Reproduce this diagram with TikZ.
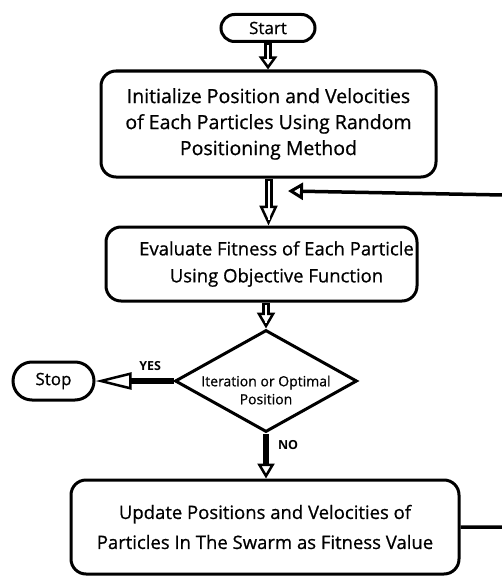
\documentclass[tikz,border=0pt]{standalone}
\usepackage{fontspec}
\setmainfont{Open Sans}
\newfontfamily\semi{Open Sans}[FakeBold=0.7]
\usetikzlibrary{arrows.meta,shapes.geometric,shapes.misc}
\begin{document}
\begin{tikzpicture}[x=1pt,y=-1pt,
  every node/.style={font=\semi\fontsize{18.5}{27}\selectfont, align=center},
  term/.style={draw, line width=3pt, rounded rectangle, inner sep=0pt, font=\semi\fontsize{17}{20}\selectfont},
  proc/.style={draw, line width=3pt, rounded corners=15pt, inner sep=0pt},
  decision/.style={draw, line width=3pt, diamond, inner sep=0pt, minimum width=182pt, minimum height=102pt},
  dbl/.style={line width=8pt, -{Triangle[open, fill=white, line width=2.5pt, length=#1, width=18pt]},
    postaction={draw, white, line width=2pt, -, shorten <=2pt, shorten >=6pt}},
  thk/.style={line width=6pt, -{Triangle[open, fill=white, line width=2.5pt, length=#1, width=17pt]}},
  fb/.style={line width=3.5pt, -{Triangle[open, fill=white, line width=3pt, length=15pt, width=17pt]}},
  lbl/.style={font=\bfseries\fontsize{12.5}{14}\selectfont, inner sep=0pt},
]
\useasboundingbox (0,0) rectangle (501,578);

\node[term, minimum width=94pt, minimum height=27pt] (start) at (268,28) {Start};
\node[proc, minimum width=335pt, minimum height=106pt, font=\semi\fontsize{19.5}{26}\selectfont] (init) at (268.5,124)
  {Initialize Position and Velocities\\of Each Particles Using Random\\Positioning Method};
\node[proc, minimum width=311pt, minimum height=74pt,
  label={[xshift=15pt, align=center]center:Evaluate Fitness of Each Particle\\Using Objective Function}]
  (eval) at (261.5,264) {};
\node[decision, label={[yshift=-9pt, align=center, font=\semi\fontsize{14}{18}\selectfont]center:Iteration or Optimal\\Position}]
  (dec) at (266,381) {};
\node[term, minimum width=81pt, minimum height=38pt] (stop) at (53.5,381) {Stop};
\node[proc, minimum width=388pt, minimum height=94pt, font=\semi\fontsize{18.5}{30}\selectfont] (upd) at (265,527)
  {Update Positions and Velocities of\\Particles In The Swarm as Fitness Value};
\coordinate (fbtip) at (288,191);

\draw[dbl=13pt] (start.south) -- (start.south |- init.north);
\draw[dbl=20pt] (init.south) -- (init.south |- eval.north);
\draw[dbl=16pt] (eval.south -| dec.north) -- (dec.north);
\draw[thk=36pt] (dec.west) -- (stop.east) node[lbl, pos=0.3, yshift=15pt] {YES};
\draw[thk=15pt] (dec.south) -- (dec.south |- upd.north) node[lbl, pos=0.25, anchor=west, xshift=9pt] {NO};
\draw[fb] (upd.east) -- (530,527) -- (530,195.5) -- (fbtip);
\end{tikzpicture}
\end{document}
